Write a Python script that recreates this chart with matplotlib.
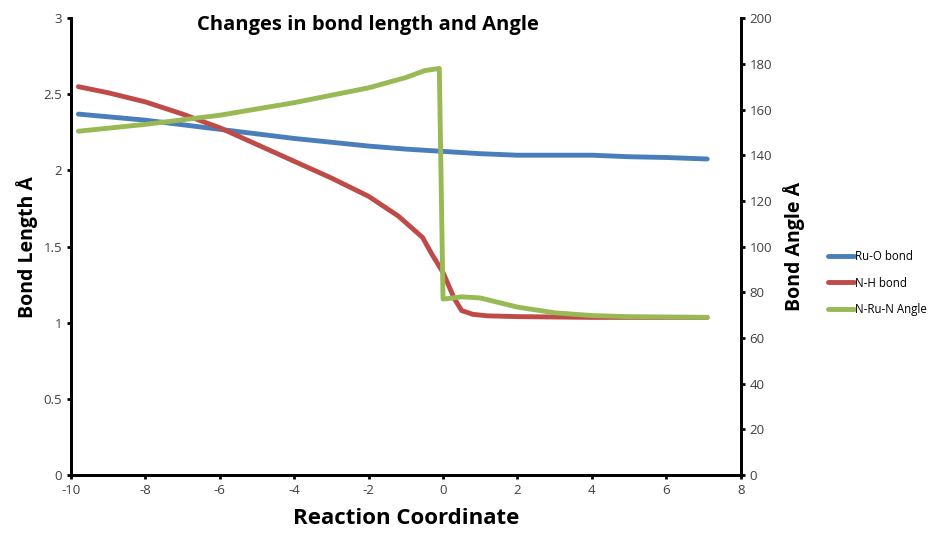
import matplotlib.pyplot as plt

plt.rcParams["font.family"] = ["Open Sans", "DejaVu Sans"]
plt.rcParams["axes.unicode_minus"] = False

# Ru-O bond length (left axis)
ruo_x = [-9.8, -8, -6, -5, -4, -3, -2, -1, 0, 1, 2, 3, 4, 5, 6, 7.1]
ruo_y = [2.37, 2.33, 2.27, 2.24, 2.21, 2.185, 2.16, 2.14, 2.125, 2.11, 2.10, 2.10, 2.10, 2.09, 2.085, 2.075]

# N-H bond length (left axis)
nh_x = [-9.8, -9, -8, -7, -6, -5, -4, -3, -2, -1.2, -0.55, -0.3, 0, 0.3, 0.5, 0.8, 1.2, 2, 4, 7.1]
nh_y = [2.55, 2.51, 2.45, 2.37, 2.28, 2.17, 2.06, 1.95, 1.83, 1.70, 1.56, 1.45, 1.33, 1.16, 1.08, 1.055, 1.045, 1.04, 1.035, 1.035]

# N-Ru-N angle (right axis)
ang_x = [-9.8, -8, -6, -4, -2, -1, -0.5, -0.1, 0.0, 0.5, 1, 1.5, 2, 3, 4, 5, 7.1]
ang_y = [150.5, 153.5, 157.5, 163, 169.5, 174, 177, 178, 77, 78, 77.5, 75.5, 73.5, 71, 69.8, 69.3, 69]

fig = plt.figure(figsize=(9.34, 5.34), dpi=100)
ax = fig.add_axes([0.076, 0.1105, 0.717, 0.8555])
ax2 = ax.twinx()

l1, = ax.plot(ruo_x, ruo_y, color="#4a7ebb", lw=3.5, label="Ru-O bond", solid_capstyle="round")
l2, = ax.plot(nh_x, nh_y, color="#be4b48", lw=3.5, label="N-H bond", solid_capstyle="round")
l3, = ax2.plot(ang_x, ang_y, color="#98b954", lw=3.5, label="N-Ru-N Angle", solid_capstyle="round")

ax.set_xlim(-10, 8)
ax.set_ylim(0, 3)
ax2.set_ylim(0, 200)
ax.set_xticks(range(-10, 9, 2))
ax.set_yticks([0, 0.5, 1, 1.5, 2, 2.5, 3])
ax.set_yticklabels(["0", "0.5", "1", "1.5", "2", "2.5", "3"])
ax2.set_yticks(range(0, 201, 20))

for a in (ax, ax2):
    a.spines["top"].set_visible(False)
    for s in a.spines.values():
        s.set_linewidth(2)
    a.tick_params(direction="out", length=3, width=2, labelsize=9.5, colors="black", labelcolor="#404040")

ax.set_xlabel("Reaction Coordinate", fontsize=16, fontweight="bold", labelpad=8)
ax.set_ylabel("Bond Length Å", fontsize=14, fontweight="bold", labelpad=4)
ax2.set_ylabel("Bond Angle Å", fontsize=14, fontweight="bold", labelpad=8)
ax.text(-6.6, 2.92, "Changes in bond length and Angle", fontsize=14.5, fontweight="bold")

fig.legend(handles=[l1, l2, l3], loc="center left", bbox_to_anchor=(0.887, 0.47),
           frameon=False, fontsize=8.3, handlelength=2.2, labelspacing=1.2, handletextpad=0.1,
           borderaxespad=0, borderpad=0)

fig.savefig("out.png", dpi=100)
